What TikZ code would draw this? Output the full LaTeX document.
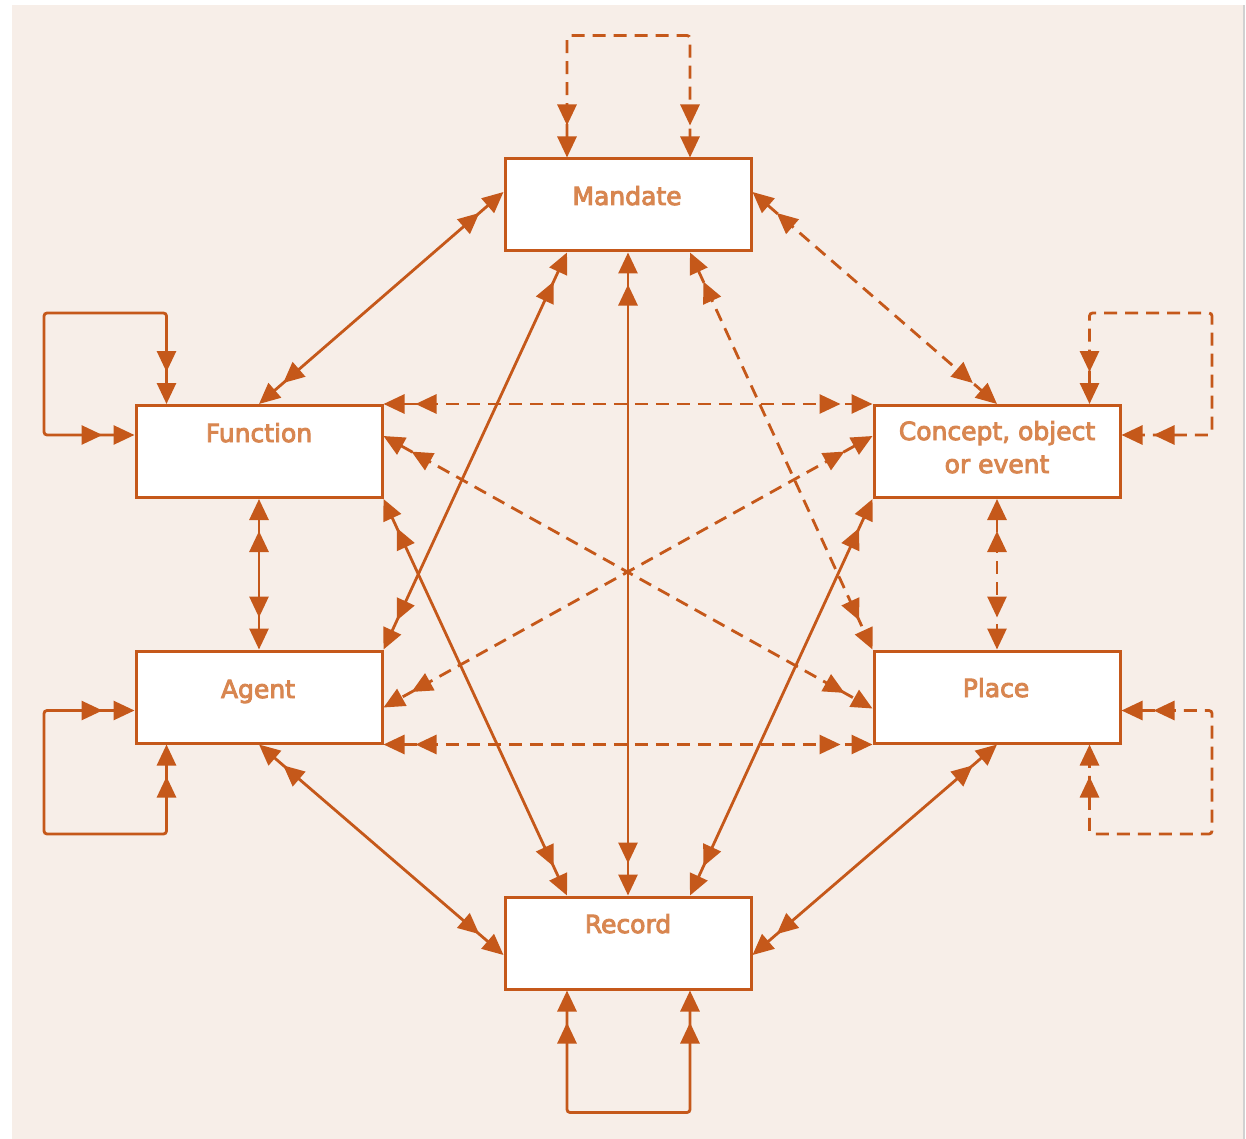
\documentclass[tikz,border=0pt]{standalone}
\usepackage{fontspec}
\setmainfont{DejaVu Sans}
\newfontfamily\lblfont{DejaVu Sans}
\newcommand\thicktext[1]{\special{pdf:literal direct 2 Tr 0.9 w}#1\special{pdf:literal direct 0 Tr}}
\usetikzlibrary{arrows.meta,calc}
\definecolor{bg}{RGB}{247,238,232}
\definecolor{ln}{RGB}{197,88,26}
\definecolor{tx}{RGB}{216,134,80}
\tikzset{
  Dbl/.tip={Triangle[length=21pt,width=19pt,sep=11pt]Triangle[length=21pt,width=19pt]},
}
\begin{document}
\begin{tikzpicture}[x=1pt,y=-1pt,
  box/.style={draw=ln,line width=3pt,fill=white,minimum width=246pt,minimum height=92pt,inner sep=0pt},
  lbl/.style={text=tx,font=\lblfont\fontsize{25}{30}\selectfont,inner sep=0pt,anchor=base},
  rel/.style={draw=ln,line width=2.8pt,Dbl-Dbl},
  drel/.style={rel,dash pattern=on 13pt off 8pt},
  loop/.style={rel,rounded corners=3pt},
  dloop/.style={drel,rounded corners=3pt}]
\useasboundingbox (0,0) rectangle (1246,1139);
\fill[bg] (12,5) rectangle (1243,1139);
\draw[black!18,line width=2pt] (1244,5) -- (1244,1139);

% boxes
\node[box] (M) at (628,205) {};
\node[box] (F) at (259,451.5) {};
\node[box] (C) at (997,451.5) {};
\node[box] (A) at (259,697) {};
\node[box] (P) at (997,697) {};
\node[box] (R) at (628,943) {};

% self loops
\coordinate (m1) at ($(M.north)+(-61,-122)$);
\coordinate (m2) at ($(M.north)+(62,-122)$);
\draw[dloop] ($(M.north)+(-61,0)$) -- (m1) -- (m2) -- ($(M.north)+(62,0)$);

\coordinate (f2) at (44,313);
\draw[loop] ($(F.north west)+(32,0)$) |- (f2) |- ($(F.north west)+(0,31)$);

\coordinate (c2) at (1212,313);
\draw[dloop] ($(C.north east)+(-32,0)$) |- (c2) |- ($(C.north east)+(0,31)$);

\coordinate (a2) at (44,834);
\draw[loop] ($(A.north west)+(0,61)$) -| (a2) -| ($(A.south west)+(32,0)$);

\coordinate (p2) at (1212,834);
\draw[dloop] ($(P.north east)+(0,61)$) -| (p2) -| ($(P.south east)+(-32,0)$);

\coordinate (r1) at ($(R.south)+(-61,122)$);
\coordinate (r2) at ($(R.south)+(62,122)$);
\draw[loop] ($(R.south)+(-61,0)$) -- (r1) -- (r2) -- ($(R.south)+(62,0)$);

% relations
\draw[rel]  ($(M.west)+(0,-13)$) -- (F.north);
\draw[drel] ($(M.east)+(0,-13)$) -- (C.north);
\draw[rel]  ($(M.south)+(-61,0)$) -- (A.north east);
\draw[rel]  (M.south) -- (R.north);
\draw[drel] ($(M.south)+(62,0)$) -- (P.north west);
\draw[drel] (F.north east) -- (C.north west);
\draw[drel] ($(F.north east)+(0,32)$) -- ($(P.north west)+(0,59)$);
\draw[rel]  (F.south) -- (A.north);
\draw[rel]  (F.south east) -- ($(R.north)+(-61,0)$);
\draw[drel] ($(C.north west)+(0,32)$) -- ($(A.north east)+(0,58)$);
\draw[drel] (C.south) -- (P.north);
\draw[rel]  (C.south west) -- ($(R.north)+(62,0)$);
\draw[drel] (A.south east) -- (P.south west);
\draw[rel]  (A.south) -- ($(R.west)+(0,12)$);
\draw[rel]  (P.south) -- ($(R.east)+(0,12)$);

% labels
\node[lbl] (Mt) at (627,205) {\thicktext{Mandate}};
\node[lbl] (Ft) at (259,442) {\thicktext{Function}};
\node[lbl] (Ct1) at (997,440) {\thicktext{Concept, object}};
\node[lbl] (Ct2) at (997,473) {\thicktext{or event}};
\node[lbl] (At) at (258,698) {\thicktext{Agent}};
\node[lbl] (Pt) at (996,697) {\thicktext{Place}};
\node[lbl] (Rt) at (628,933) {\thicktext{Record}};
\end{tikzpicture}
\end{document}
